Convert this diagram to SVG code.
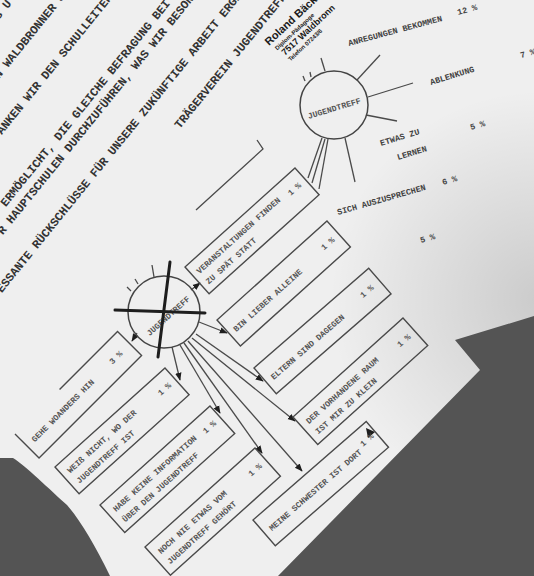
<svg xmlns="http://www.w3.org/2000/svg" width="534" height="576" viewBox="0 0 534 576">
<defs>
<style>
.body{font-family:"Liberation Mono",monospace;font-size:11.8px;font-weight:bold;fill:#333}
.t{font-family:"Liberation Mono",monospace;font-size:8.3px;font-weight:bold;fill:#555}
.u{font-family:"Liberation Mono",monospace;font-size:8.5px;font-weight:bold;fill:#444}
.box{fill:none;stroke:#4a4a4a;stroke-width:1.4}
.ln{fill:none;stroke:#4a4a4a;stroke-width:1.3}
.cross{stroke:#1e1e1e;stroke-width:3;stroke-linecap:round;fill:none}
.circ{fill:none;stroke:#444;stroke-width:1.5}
.stamp{font-family:"Liberation Sans",sans-serif;font-weight:bold;fill:#1a1a1a}
.dark{fill:#545454}
</style>
<marker id="ah" viewBox="0 0 10 10" refX="9" refY="5" markerWidth="8" markerHeight="8" markerUnits="userSpaceOnUse" orient="auto">
<path d="M0,1 L10,5 L0,9 Z" fill="#1e1e1e"/>
</marker>
<radialGradient id="sheet" gradientUnits="userSpaceOnUse" cx="540" cy="300" r="210">
<stop offset="0" stop-color="#000" stop-opacity="0.15"/>
<stop offset="1" stop-color="#000" stop-opacity="0"/>
</radialGradient>
</defs>

<rect width="534" height="576" fill="#efefef"/>
<rect width="534" height="576" fill="url(#sheet)"/>
<path class="dark" d="M0,458 L13,458 C25,465 50,490 67,505 C80,520 95,545 110,576 L0,576 Z"/>
<polygon class="dark" points="455,340 534,316 534,576 278,576 480,370"/>

<g id="bodytext">
<text class="body" transform="translate(-1.3,20.2) rotate(-51)">S U</text>
<text class="body" transform="translate(-1,79) rotate(-51)">N WALDBRONNER SCH</text>
<text class="body" transform="translate(1.7,135) rotate(-51)">ANKEN WIR DEN SCHULLEITERN</text>
<text class="body" transform="translate(5.7,207.2) rotate(-51)">ERMÖGLICHT, DIE GLEICHE BEFRAGUNG BEI</text>
<text class="body" transform="translate(2.7,235.2) rotate(-51)">R HAUPTSCHULEN DURCHZUFÜHREN, WAS WIR BESONDERS</text>
<text class="body" transform="translate(1.7,293.2) rotate(-51)">ESSANTE RÜCKSCHLÜSSE FÜR UNSERE ZUKÜNFTIGE ARBEIT ERGEBEN</text>
<text class="body" transform="translate(179.7,129.2) rotate(-51)">TRÄGERVEREIN JUGENDTREFF</text>
</g>

<g id="stamp" transform="translate(269,46) rotate(-43)">
<text class="stamp" x="0" y="0" font-size="11">Roland Bäcker</text>
<text class="stamp" x="3" y="9" font-size="6">Diplom-Pädagoge</text>
<text class="stamp" x="5" y="18" font-size="9">7517 Waldbronn</text>
<text class="stamp" x="5" y="26" font-size="6">Telefon 07243/6</text>
</g>

<g id="answers-upper">
<text class="u" transform="translate(349,46) rotate(-15)">ANREGUNGEN BEKOMMEN</text>
<text class="u" transform="translate(458,15) rotate(-15)">12 %</text>
<text class="u" transform="translate(521,58) rotate(-15)">7 %</text>
<text class="u" transform="translate(431,85) rotate(-17)">ABLENKUNG</text>
<text class="u" transform="translate(471,130) rotate(-16)">5 %</text>
<text class="u" transform="translate(381,146) rotate(-17)">ETWAS ZU</text>
<text class="u" transform="translate(398,160) rotate(-17)">LERNEN</text>
<text class="u" transform="translate(338,215) rotate(-16)">SICH AUSZUSPRECHEN</text>
<text class="u" transform="translate(443,185) rotate(-16)">6 %</text>
<text class="u" transform="translate(421,243) rotate(-16)">5 %</text>
</g>

<g id="connectors">
<line class="ln" x1="325" y1="71" x2="321" y2="58"/>
<line class="ln" x1="305" y1="81" x2="303" y2="76"/>
<line class="ln" x1="311" y1="77" x2="310" y2="72"/>
<line class="ln" x1="357" y1="80" x2="380" y2="55"/>
<line class="ln" x1="368" y1="97" x2="413" y2="83"/>
<line class="ln" x1="366" y1="115" x2="397" y2="121"/>
<line class="ln" x1="345" y1="138" x2="355" y2="182"/>
<line class="ln" x1="322" y1="138" x2="308" y2="178"/>
<line class="ln" x1="325" y1="139" x2="312" y2="183"/>
<line class="ln" x1="328" y1="139" x2="319" y2="189"/>
<polyline class="ln" points="257,140 263,149 196,210"/>
<line class="ln" x1="152" y1="265" x2="154" y2="277"/>
<line class="ln" x1="131" y1="291" x2="127" y2="287"/>
<line class="ln" x1="138" y1="284" x2="135" y2="279"/>
<line class="ln" x1="191" y1="290" x2="200" y2="283" marker-end="url(#ah)"/>
<line class="ln" x1="199" y1="322" x2="227" y2="333" marker-end="url(#ah)"/>
<line class="ln" x1="196" y1="334" x2="263" y2="381" marker-end="url(#ah)"/>
<line class="ln" x1="192" y1="338" x2="295" y2="421" marker-end="url(#ah)"/>
<line class="ln" x1="188" y1="341" x2="302" y2="471" marker-end="url(#ah)"/>
<line class="ln" x1="184" y1="343" x2="262" y2="453" marker-end="url(#ah)"/>
<line class="ln" x1="180" y1="345" x2="220" y2="413" marker-end="url(#ah)"/>
<line class="ln" x1="172" y1="347" x2="180" y2="380" marker-end="url(#ah)"/>
<line class="ln" x1="137" y1="333" x2="132" y2="341" marker-end="url(#ah)"/>
<polygon points="366,428 375,432 368,438" fill="#1e1e1e"/>
</g>

<g id="circle-upper">
<circle class="circ" cx="334" cy="105" r="34"/>
<text class="t" font-size="7.8" text-anchor="middle" transform="translate(335,111) rotate(-17)">JUGENDTREFF</text>
</g>

<g id="circle-lower">
<circle class="circ" cx="164" cy="312" r="36"/>
<text class="t" font-size="9" text-anchor="middle" fill="#444" transform="translate(170,318) rotate(-42)">JUGENDTREFF</text>
<line class="cross" x1="170" y1="262" x2="158" y2="357"/>
<line class="cross" x1="115" y1="310" x2="205" y2="313"/>
</g>

<g id="box1" transform="translate(185,267) rotate(-42)">
<rect class="box" width="148" height="36"/>
<text class="t" x="6" y="15">VERANSTALTUNGEN FINDEN</text>
<text class="t" x="6" y="29">ZU SPÄT STATT</text>
<text class="t" x="126" y="18">1 %</text>
</g>

<g id="box2" transform="translate(217,320) rotate(-42)">
<rect class="box" width="148" height="35"/>
<text class="t" x="6" y="22">BIN LIEBER ALLEINE</text>
<text class="t" x="126" y="20">1 %</text>
</g>

<g id="box3" transform="translate(254,368) rotate(-41)">
<rect class="box" width="152" height="34"/>
<text class="t" x="7" y="22">ELTERN SIND DAGEGEN</text>
<text class="t" x="128" y="19">1 %</text>
</g>

<g id="box4" transform="translate(293,417) rotate(-42)">
<rect class="box" width="148" height="37"/>
<text class="t" x="7" y="16">DER VORHANDENE RAUM</text>
<text class="t" x="7" y="30">IST MIR ZU KLEIN</text>
<text class="t" x="126" y="20">1 %</text>
</g>

<g id="box5" transform="translate(253,520) rotate(-41)">
<rect class="box" width="150" height="34"/>
<text class="t" x="7" y="21">MEINE SCHWESTER IST DORT</text>
<text class="t" x="131" y="17">1 %</text>
</g>

<g id="box6" transform="translate(15,434) rotate(-45)">
<path class="box" d="M63,0 L145,0 L145,34 L0,34 L0,0"/>
<text class="t" x="8" y="20">GEHE WOANDERS HIN</text>
<text class="t" x="118" y="20">3 %</text>
</g>

<g id="box7" transform="translate(55,467) rotate(-42)">
<rect class="box" width="148" height="36"/>
<text class="t" x="7" y="15">WEIß NICHT, WO DER</text>
<text class="t" x="7" y="29">JUGENDTREFF IST</text>
<text class="t" x="126" y="18">1 %</text>
</g>

<g id="box8" transform="translate(100,505) rotate(-42)">
<rect class="box" width="148" height="37"/>
<text class="t" x="7" y="16">HABE KEINE INFORMATION</text>
<text class="t" x="7" y="30">ÜBER DEN JUGENDTREFF</text>
<text class="t" x="126" y="18">1 %</text>
</g>

<g id="box9" transform="translate(145,547) rotate(-42)">
<rect class="box" width="148" height="38"/>
<text class="t" x="7" y="16">NOCH NIE ETWAS VOM</text>
<text class="t" x="7" y="30">JUGENDTREFF GEHÖRT</text>
<text class="t" x="126" y="19">1 %</text>
</g>
</svg>
